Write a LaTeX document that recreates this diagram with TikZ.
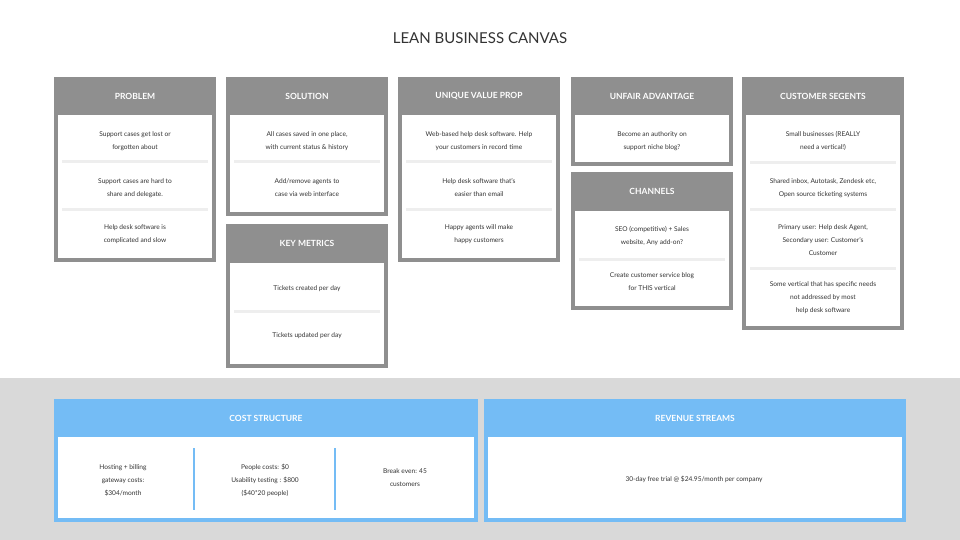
\documentclass[tikz,border=0pt]{standalone}
\usepackage{fontspec}
\setmainfont{Lato}
\definecolor{hdr}{HTML}{8F8F8F}
\definecolor{sep}{HTML}{EEEEEE}
\definecolor{blu}{HTML}{74BCF5}
\definecolor{band}{HTML}{D9D9D9}
\definecolor{txt}{HTML}{333333}
\tikzset{
 frame/.style={fill=hdr,draw=none},
 body/.style={fill=white,draw=none},
 hd/.style={text=white,font=\fontsize{8.5}{10}\selectfont\bfseries},
 it/.style={text=txt,align=center,font=\fontsize{6.6}{13}\selectfont},
 sepl/.style={draw=sep,line width=3pt},
 dv/.style={draw=blu,line width=2.5pt},
}
% \pnl{x1}{y1}{x2}{yh}{y2}{color}{title}{name}
\newcommand\pnl[8]{%
 \fill[#6] (#1,#2) rectangle (#3,#5);
 \fill[white] ({#1+4},#4) rectangle ({#3-4},{#5-4});
 \node[hd] (#8) at ({(#1+#3)/2},{(#2+#4)/2}) {#7};}
\newcommand\sepa[3]{\draw[sepl] ({#1+8},#3) -- ({#2-8},#3);}
\begin{document}
\begin{tikzpicture}[x=1pt,y=-1pt]
\useasboundingbox (0,0) rectangle (960,540);
\fill[white] (0,0) rectangle (960,540);
\fill[band] (0,378) rectangle (960,540);
\node[text=txt,font=\fontsize{15}{18}\selectfont] (title) at (480,38) {LEAN BUSINESS CANVAS};
% Problem
\pnl{54}{77}{216}{115}{262}{hdr}{PROBLEM}{prob}
\node[it] (p1) at (135,141) {Support cases get lost or\\forgotten about};
\sepa{54}{216}{162}
\node[it] (p2) at (135,188) {Support cases are hard to\\share and delegate.};
\sepa{54}{216}{209}
\node[it] (p3) at (135,234) {Help desk software is\\complicated and slow};
% Solution
\pnl{226}{77}{388}{115}{216}{hdr}{SOLUTION}{sol}
\node[it] (s1) at (307,141) {All cases saved in one place,\\with current status \& history};
\sepa{226}{388}{162}
\node[it] (s2) at (307,188) {Add/remove agents to\\case via web interface};
% Key metrics
\pnl{226}{224}{388}{263}{368}{hdr}{KEY METRICS}{key}
\node[it] (k1) at (307,289) {Tickets created per day};
\sepa{226}{388}{311}
\node[it] (k2) at (307,336) {Tickets updated per day};
% UVP
\pnl{398}{77}{560}{115}{262}{hdr}{UNIQUE VALUE PROP}{uvp}
\node[it] (u1) at (479,141) {Web-based help desk software. Help\\your customers in record time};
\sepa{398}{560}{162}
\node[it] (u2) at (479,188) {Help desk software that's\\easier than email};
\sepa{398}{560}{209}
\node[it] (u3) at (479,234) {Happy agents will make\\happy customers};
% Unfair
\pnl{571}{77}{733}{115}{166}{hdr}{UNFAIR ADVANTAGE}{unf}
\node[it] (f1) at (652,141) {Become an authority on\\support niche blog?};
% Channels
\pnl{571}{172}{733}{211}{310}{hdr}{CHANNELS}{chan}
\node[it] (c1) at (652,236) {SEO (competitive) + Sales\\website, Any add-on?};
\sepa{571}{733}{259}
\node[it] (c2) at (652,282) {Create customer service blog\\for THIS vertical};
% Customer segments
\pnl{742}{77}{904}{115}{330}{hdr}{CUSTOMER SEGENTS}{cust}
\node[it] (g1) at (823,141) {Small businesses (REALLY\\need a vertical!)};
\sepa{742}{904}{163}
\node[it] (g2) at (823,188) {Shared inbox, Autotask, Zendesk etc,\\Open source ticketing systems};
\sepa{742}{904}{209}
\node[it] (g3) at (823,240) {Primary user: Help desk Agent,\\Secondary user: Customer's\\Customer};
\sepa{742}{904}{268}
\node[it] (g4) at (823,298) {Some vertical that has specific needs\\not addressed by most\\help desk software};
% Cost structure
\pnl{54}{399}{478}{437}{522}{blu}{COST STRUCTURE}{cost}
\node[hd] at (265,418) {}; 
\draw[dv] (194,448) -- (194,510);
\draw[dv] (335,448) -- (335,510);
\node[it] (o1) at (123,480) {Hosting + billing\\gateway costs:\\\$304/month};
\node[it] (o2) at (265,480) {People costs: \$0\\Usability testing : \$800\\(\$40*20 people)};
\node[it] (o3) at (405,478) {Break even: 45\\customers};
% Revenue
\pnl{484}{399}{906}{437}{522}{blu}{REVENUE STREAMS}{rev}
\node[it] (r1) at (694,479) {30-day free trial @ \$24.95/month per company};
\end{tikzpicture}
\end{document}
